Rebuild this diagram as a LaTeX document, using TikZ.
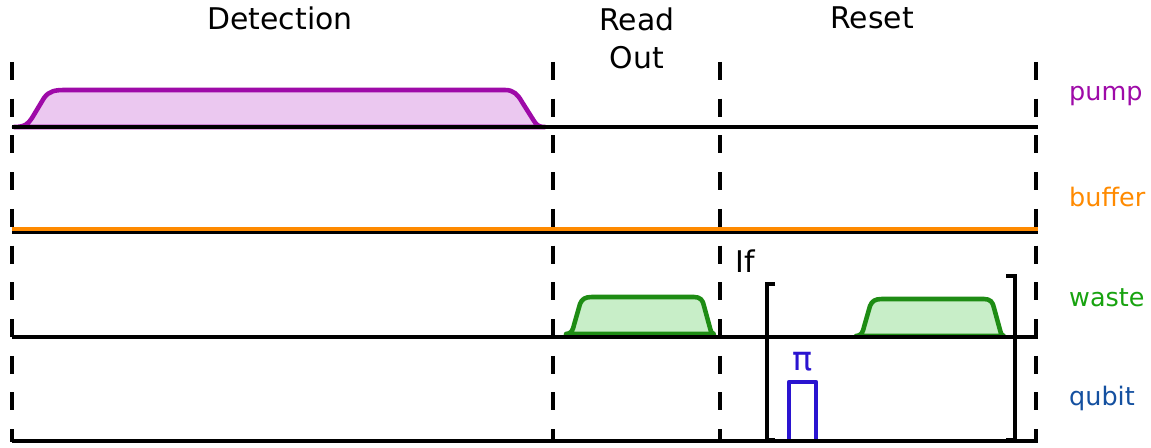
\documentclass[tikz,border=0pt]{standalone}
\usepackage{fontspec}
\setmainfont{DejaVu Sans}
\definecolor{pumpc}{HTML}{9E0AA8}
\definecolor{pumpf}{HTML}{EBC8F0}
\definecolor{bufc}{HTML}{FF8A00}
\definecolor{wastec}{HTML}{1E8C14}
\definecolor{wastef}{HTML}{C8EEC8}
\definecolor{qubc}{HTML}{1450A0}
\definecolor{pic}{HTML}{2A14D0}
\tikzset{
  track/.style={line width=2.6pt,black},
  divider/.style={line width=2.5pt,dash pattern=on 10.2pt off 10.7pt},
  phase/.style={font=\fontsize{17}{21.6}\selectfont,align=center},
  chan/.style={font=\fontsize{14.5}{17}\selectfont,anchor=west},
  pulse/.style={line width=2.6pt,line join=round}
}
\begin{document}
\begin{tikzpicture}[x=0.02cm,y=-0.02cm]
\useasboundingbox (0,0) rectangle (1151,448);

% phases
\node[phase] (det) at (280,18) {Detection};
\node[phase,anchor=north] (ro) at (637,2) {Read\\Out};
\node[phase] (rst) at (872,18) {Reset};

% dividers
\foreach \x/\n in {12/a,553/b,720/c,1036/d}
  \draw[divider] (\x,62) coordinate (\n top) -- (\x,442) coordinate (\n bot);

% pump
\draw[pulse,draw=pumpc,fill=pumpf] (14,127) .. controls (25,127) and (28,124) .. (32,118)
  -- (44,98) .. controls (49,91) and (55,90) .. (65,90) -- (505,90)
  .. controls (514,90) and (518,95) .. (522,102) -- (534,121)
  .. controls (537,126) and (540,127) .. (545,127) -- cycle;
\draw[track] (12,127) coordinate (p0) -- (1038,127) coordinate (p1);

% buffer
\draw[track] (12,232) coordinate (b0) -- (1038,232) coordinate (b1);
\draw[line width=2.6pt,bufc] (12,229) -- (1038,229);

% waste
\draw[pulse,draw=wastec,fill=wastef] (566,334) .. controls (571,334) and (573,330) .. (574,325)
  -- (580,304) .. controls (582,299) and (585,297) .. (592,297) -- (694,297)
  .. controls (700,297) and (703,300) .. (704,306) -- (710,328)
  .. controls (711,332) and (712,334) .. (714,334) -- cycle;
\draw[pulse,draw=wastec,fill=wastef] (856,336) .. controls (861,336) and (863,332) .. (864,327)
  -- (870,306) .. controls (872,301) and (875,299) .. (882,299) -- (984,299)
  .. controls (990,299) and (993,302) .. (994,308) -- (1000,330)
  .. controls (1001,334) and (1002,336) .. (1004,336) -- cycle;
\draw[track] (12,337) coordinate (w0) -- (1038,337) coordinate (w1);

% qubit
\draw[pulse,draw=pic] (789,441) -- (789,382) -- (816,382) -- (816,441);
\node[text=pic,font=\fontsize{19}{22}\selectfont] (pi) at (803,362) {π};
\draw[track] (12,441) coordinate (q0) -- (1038,441) coordinate (q1);

% conditional
\node[font=\fontsize{17}{20}\selectfont] (if) at (745,261) {If};
\draw[line width=2.8pt] (775,284) -- (767,284) -- (767,440) -- (775,440);
\draw[line width=2.8pt] (1006,276) -- (1015,276) -- (1015,440) -- (1006,440);

% channels
\node[chan,text=pumpc] (pump) at (1063,96) {pump};
\node[chan,text=bufc] (buf) at (1063,197) {buffer};
\node[chan,text=wastec!80!green] (waste) at (1063,298) {waste};
\node[chan,text=qubc] (qub) at (1063,398) {qubit};
\end{tikzpicture}
\end{document}
